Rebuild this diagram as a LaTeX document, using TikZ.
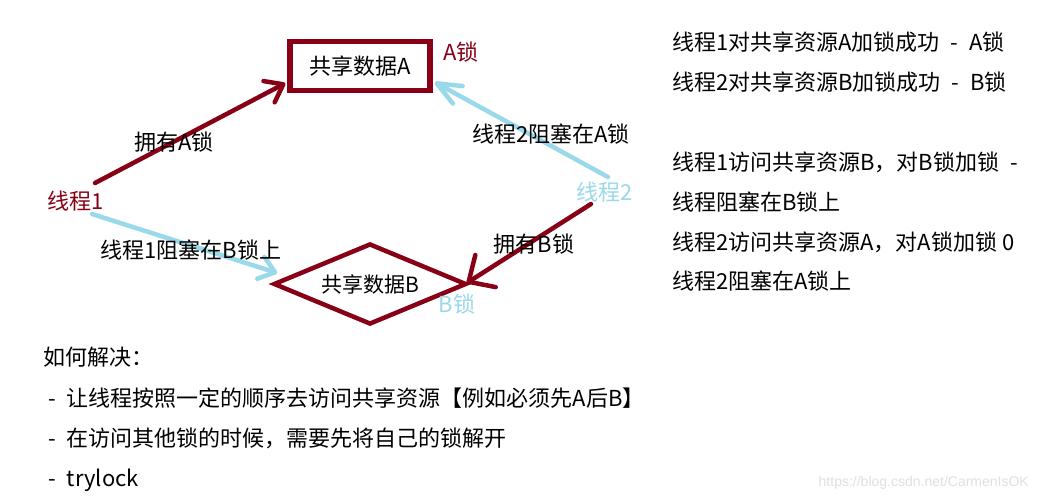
\documentclass[tikz,border=0pt]{standalone}
\usepackage{fontspec}
\setmainfont{Noto Sans CJK SC}
\newfontfamily\wmfont{Liberation Sans}
\usetikzlibrary{arrows.meta,shapes.geometric,calc}
\definecolor{dred}{HTML}{880015}
\definecolor{lblue}{HTML}{99D9EA}
\begin{document}
\begin{tikzpicture}[x=1pt,y=-1pt,
  txt/.style={font=\fontsize{22}{26}\selectfont, inner sep=0pt, text height=18.5pt, text depth=2pt},
  note/.style={txt, anchor=west},
  redline/.style={draw=dred, line width=4.5pt, line cap=round},
  blueline/.style={draw=lblue, line width=4.5pt, line cap=round},
  rectbox/.style={draw=dred, line width=5.5pt, minimum width=140pt, minimum height=49pt, inner sep=0pt, txt},
  diabox/.style={diamond, draw=dred, line width=4.5pt, aspect=2.38, minimum width=193pt, minimum height=81pt, inner sep=0pt, txt, font=\fontsize{21}{25}\selectfont}
]
\useasboundingbox[fill=white] (0,0) rectangle (1039,501);

% shapes
\node[rectbox] (A) at (360,66) {共享数据A};
\node[diabox] (B) at (370,284) {共享数据B};

% thread labels
\node[txt, text=dred] (t1) at (76,201) {线程1};
\node[txt, text=lblue] (t2) at (605,192) {线程2};
\node[txt, text=dred] (la) at (461,52) {A锁};
\node[txt, text=lblue] (lb) at (457,304) {B锁};

% connector start points
\coordinate (s1r) at (95,183);
\coordinate (s1b) at (92,214);
\coordinate (s2b) at (608,177);
\coordinate (s2r) at (591,204);

% connectors
\draw[redline, -{Straight Barb[length=16pt,width=24pt,round]}] (s1r) -- ($(A.south west)+(-2,-10)$);
\draw[blueline, -{Straight Barb[length=24pt,width=20pt,round]}] (s2b) -- ($(A.south east)+(2,-11)$);
\draw[blueline, -{Straight Barb[length=15pt,width=23pt,round]}] (s1b) -- ($(B.west)+(6,-11)$);
\draw[redline, -{Straight Barb[length=20pt,width=38pt,round]}] (s2r) -- ($(B.east)+(-2,-1)$);

% connector labels
\node[txt] (e1) at (174,142) {拥有A锁};
\node[txt] (e2) at (551,134) {线程2阻塞在A锁};
\node[txt] (e3) at (191,250) {线程1阻塞在B锁上};
\node[txt] (e4) at (534,244) {拥有B锁};

% right notes
\node[note] (n1) at (672,42) {线程1对共享资源A加锁成功\enspace-\enspace A锁};
\node[note] (n2) at (672,82) {线程2对共享资源B加锁成功\enspace-\enspace B锁};
\node[note] (n3) at (672,162) {线程1访问共享资源B，对B锁加锁\enspace-};
\node[note] (n4) at (672,202) {线程阻塞在B锁上};
\node[note] (n5) at (672,242) {线程2访问共享资源A，对A锁加锁 0};
\node[note] (n6) at (672,281) {线程2阻塞在A锁上};

% bottom notes
\node[note] (b0) at (43,357) {如何解决：};
\node[note] (b1) at (48,398) {-\enspace 让线程按照一定的顺序去访问共享资源【例如必须先A后B】};
\node[note] (b2) at (48,438) {-\enspace 在访问其他锁的时候，需要先将自己的锁解开};
\node[note] (b3) at (48,478) {-\enspace trylock};

% watermark
\node[anchor=east, inner sep=0pt, text=black!12, font=\wmfont\fontsize{14}{16}\selectfont] (wm) at (1029,483) {https://blog.csdn.net/CarmenIsOK};
\end{tikzpicture}
\end{document}
